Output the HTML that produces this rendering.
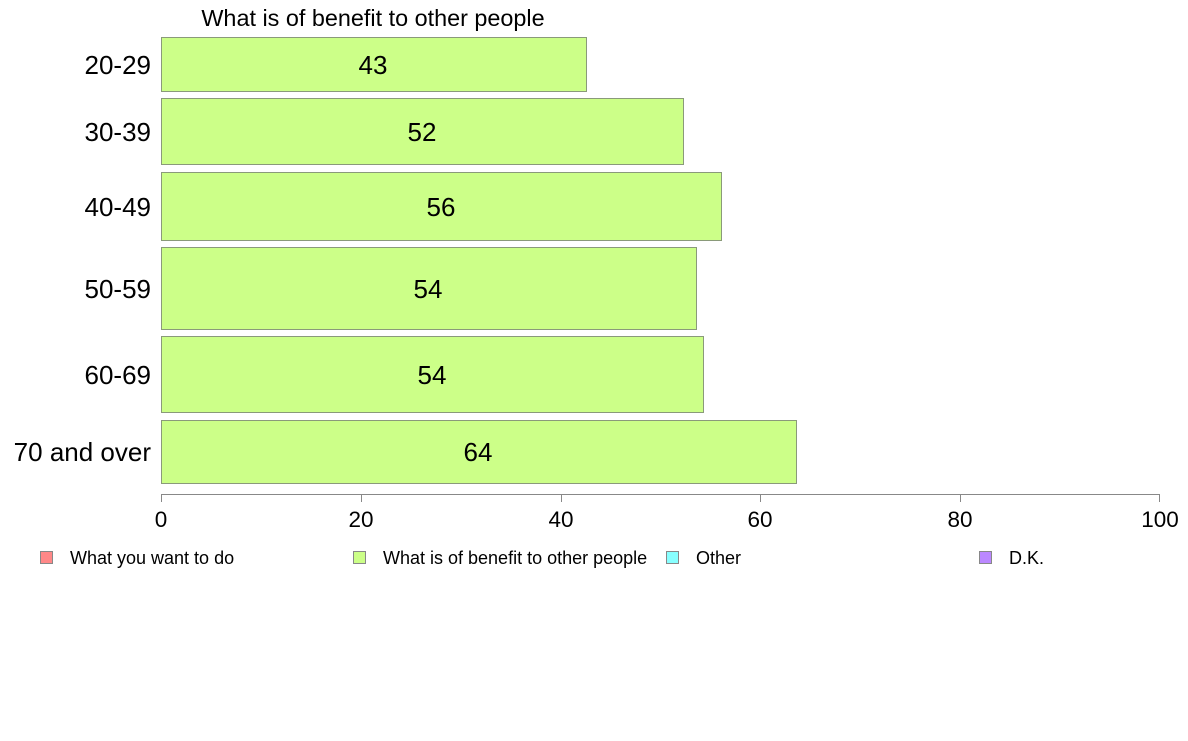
<!DOCTYPE html>
<html><head><meta charset="utf-8"><style>
body{margin:0;background:#fff}
</style></head><body>
<svg width="1188" height="736" xmlns="http://www.w3.org/2000/svg" font-family="Liberation Sans, Arial, sans-serif">
<rect width="1188" height="736" fill="#fff"/>
<text x="373" y="26" font-size="23.4" text-anchor="middle" fill="#000">What is of benefit to other people</text>
<g fill="#ccff88" stroke="#8a9a7a" stroke-width="1">
<rect x="161.5" y="37.5" width="425" height="54"/>
<rect x="161.5" y="98.5" width="522" height="66"/>
<rect x="161.5" y="172.5" width="560" height="68"/>
<rect x="161.5" y="247.5" width="535" height="82"/>
<rect x="161.5" y="336.5" width="542" height="76"/>
<rect x="161.5" y="420.5" width="635" height="63"/>
</g>
<g font-size="26" text-anchor="middle" fill="#000">
<text x="373" y="74">43</text>
<text x="422" y="141">52</text>
<text x="441" y="216">56</text>
<text x="428" y="298">54</text>
<text x="432" y="384">54</text>
<text x="478" y="461">64</text>
</g>
<g font-size="26" text-anchor="end" fill="#000">
<text x="151" y="74">20-29</text>
<text x="151" y="141">30-39</text>
<text x="151" y="216">40-49</text>
<text x="151" y="298">50-59</text>
<text x="151" y="384">60-69</text>
<text x="151" y="461">70 and over</text>
</g>
<g stroke="#888" stroke-width="1">
<line x1="161" y1="494.5" x2="1160" y2="494.5"/>
<line x1="161.5" y1="494" x2="161.5" y2="502"/>
<line x1="361.5" y1="494" x2="361.5" y2="502"/>
<line x1="561.5" y1="494" x2="561.5" y2="502"/>
<line x1="760.5" y1="494" x2="760.5" y2="502"/>
<line x1="960.5" y1="494" x2="960.5" y2="502"/>
<line x1="1159.5" y1="494" x2="1159.5" y2="502"/>
</g>
<g font-size="22.5" text-anchor="middle" fill="#000">
<text x="161" y="527">0</text>
<text x="361" y="527">20</text>
<text x="561" y="527">40</text>
<text x="760" y="527">60</text>
<text x="960" y="527">80</text>
<text x="1160" y="527">100</text>
</g>
<g stroke="#888" stroke-width="1">
<rect x="40.5" y="551.5" width="12" height="12" fill="#ff8888"/>
<rect x="353.5" y="551.5" width="12" height="12" fill="#ccff88"/>
<rect x="666.5" y="551.5" width="12" height="12" fill="#88ffff"/>
<rect x="979.5" y="551.5" width="12" height="12" fill="#bb88ff"/>
</g>
<g font-size="18" fill="#000">
<text x="70" y="564">What you want to do</text>
<text x="383" y="564">What is of benefit to other people</text>
<text x="696" y="564">Other</text>
<text x="1009" y="564">D.K.</text>
</g>
</svg>
</body></html>
